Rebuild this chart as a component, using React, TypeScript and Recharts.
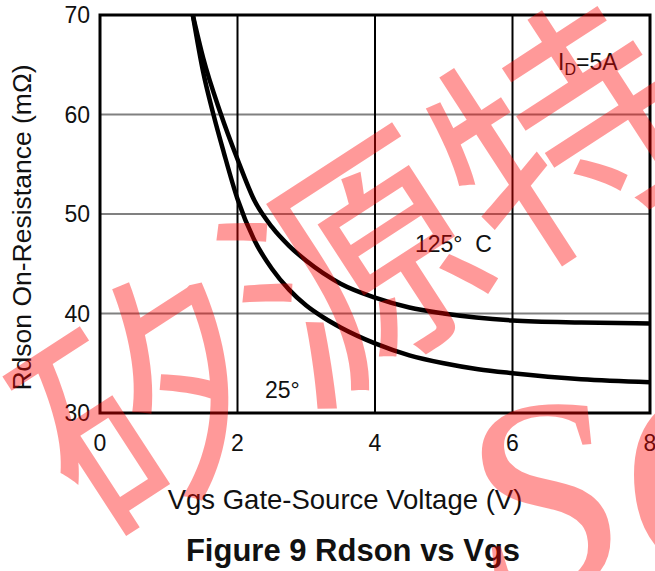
import React from "react";
import {
  LineChart,
  Line,
  XAxis,
  YAxis,
  CartesianGrid,
  ReferenceArea,
} from "recharts";

// Vgs (V) and Rdson (mΩ)
const vgs25 = [1.35, 1.5, 1.65, 1.8, 2.0, 2.25, 2.5, 2.75, 3.0, 3.25, 3.5, 4.0, 4.5, 5.0, 5.5, 6.0, 7.0, 8.0];
const rds25 = [70, 64.3, 60, 56.2, 51.5, 47.3, 44.5, 42.4, 40.8, 39.6, 38.6, 37.0, 35.8, 35.0, 34.4, 34.0, 33.4, 33.1];
const vgs125 = [1.35, 1.5, 1.75, 2.0, 2.25, 2.5, 2.75, 3.0, 3.5, 4.0, 4.5, 5.0, 6.0, 7.0, 8.0];
const rds125 = [70, 65.7, 60.2, 55.5, 51.3, 48.7, 46.8, 45.3, 43.0, 41.6, 40.6, 40.0, 39.3, 39.1, 39.0];

const xTicks = [0, 2, 4, 6, 8];
const yTicks = [30, 40, 50, 60, 70];

const data25 = vgs25.map((v, i) => ({ v, r: rds25[i] }));
const data125 = vgs125.map((v, i) => ({ v, r: rds125[i] }));

const FONT = "'Liberation Sans', Arial, Helvetica, sans-serif";

export default function App() {
  return (
    <div style={{ position: "absolute", left: 0, top: 0, width: 655, height: 571, background: "#fff", overflow: "hidden" }}>
      <LineChart
        width={655}
        height={571}
        margin={{ top: 15, right: 5, left: 0, bottom: 118 }}
      >
        <CartesianGrid vertical={false} stroke="#808080" strokeWidth={2} />
        <CartesianGrid horizontal={false} stroke="#000" strokeWidth={2} />
        <XAxis
          type="number"
          dataKey="v"
          domain={[0, 8]}
          ticks={xTicks}
          allowDataOverflow
          height={40}
          axisLine={false}
          tickLine={false}
          tickSize={8}
          tickMargin={14}
          tick={{ fontSize: 23, fill: "#111", fontFamily: FONT }}
          interval={0}
        />
        <YAxis
          type="number"
          domain={[30, 70]}
          ticks={yTicks}
          allowDataOverflow
          width={100}
          axisLine={false}
          tickLine={false}
          tickSize={8}
          tickMargin={2}
          tick={{ fontSize: 23, fill: "#111", fontFamily: FONT }}
          interval={0}
        />
        <ReferenceArea x1={0} x2={8} y1={30} y2={70} fill="none" stroke="#000" strokeWidth={3} fillOpacity={0} />
        <Line
          data={data25}
          dataKey="r"
          type="monotone"
          stroke="#000"
          strokeWidth={4.5}
          dot={false}
          activeDot={false}
          isAnimationActive={false}
        />
        <Line
          data={data125}
          dataKey="r"
          type="monotone"
          stroke="#000"
          strokeWidth={4.5}
          dot={false}
          activeDot={false}
          isAnimationActive={false}
        />
      </LineChart>
      <svg
        width={655}
        height={571}
        style={{ position: "absolute", left: 0, top: 0, pointerEvents: "none" }}
      >
        <g fontFamily={FONT} fill="#111">
          <text x={558} y={70} fontSize={23}>
            I<tspan fontSize={16} dy={5}>D</tspan>
            <tspan fontSize={23} dy={-5}>=5A</tspan>
          </text>
          <text x={415} y={252} fontSize={23} xmlSpace="preserve">125°  C</text>
          <text x={265} y={398} fontSize={23}>25°</text>
          <text x={345} y={509} fontSize={27.5} textAnchor="middle">
            Vgs Gate-Source Voltage (V)
          </text>
          <text
            x={0}
            y={0}
            fontSize={26.5}
            textAnchor="middle"
            transform="translate(31,227.5) rotate(-90)"
          >
            Rdson On-Resistance (mΩ)
          </text>
          <text x={353} y={561} fontSize={31} fontWeight="bold" textAnchor="middle">
            Figure 9 Rdson vs Vgs
          </text>
        </g>
        <g fill="#ff0000" fillOpacity={0.4}>
          <text
            x={0}
            y={0}
            fontSize={245}
            fontFamily="'Noto Sans CJK SC', sans-serif"
            textAnchor="middle"
            transform="translate(405,345) rotate(-33)"
          >
            矽源特
          </text>
          <text
            x={0}
            y={0}
            fontSize={280}
            fontFamily="'Liberation Serif', serif"
            transform="translate(478,598) rotate(-6)"
          >
            SC
          </text>
        </g>
      </svg>
    </div>
  );
}
